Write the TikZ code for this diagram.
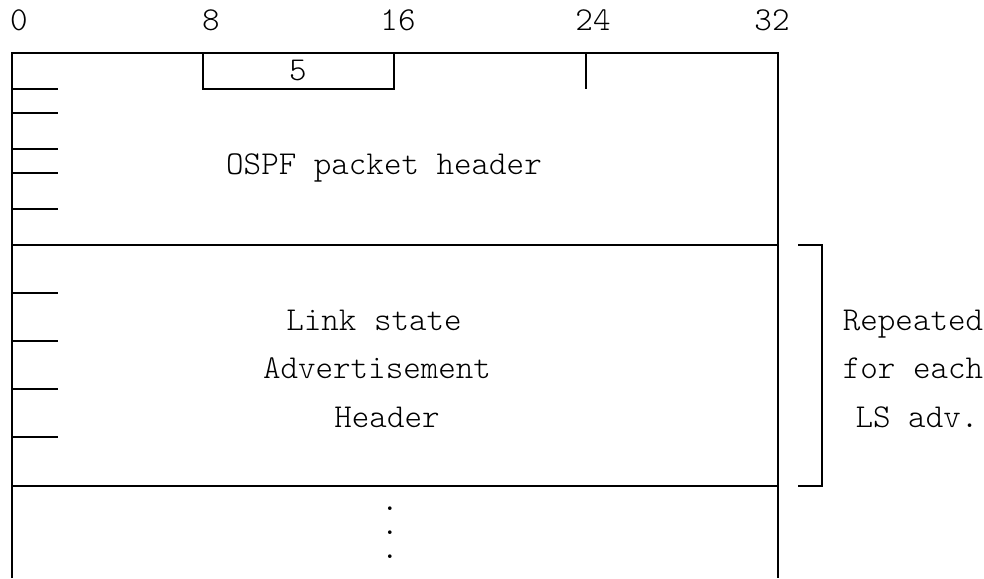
\documentclass[tikz,border=0pt]{standalone}
\usepackage{fontspec}
\setmonofont{Latin Modern Mono Light}
\begin{document}
\begin{tikzpicture}[x=0.5pt, y=-0.5pt, line width=0.6pt,
    lbl/.style={font=\ttfamily\fontsize{16.7}{19}\selectfont, inner sep=0pt, anchor=base}]
    \useasboundingbox (0,0) rectangle (984,578);
    % bit numbers
    \foreach \n/\x in {0/19, 8/211, 16/398, 24/593, 32/772}
        \node[lbl] (bit\n) at (\x, 30) {\n};
    % frame
    \draw (12, 578) -- (12, 53) -- (778, 53) -- (778, 578);
    \draw (12, 245) -- (778, 245);
    \draw (12, 486) -- (778, 486);
    % type field
    \draw (203, 53) -- (203, 89) -- (394, 89) -- (394, 53);
    \node[lbl] (type) at (298, 80) {5};
    \draw (586, 53) -- (586, 89);
    % word marks
    \foreach \y in {89, 113, 149, 173, 209, 293, 341, 389, 437}
        \draw (12, \y) -- (58, \y);
    \node[lbl] (hdr) at (384, 174) {OSPF packet header};
    \node[lbl] (lsa1) at (374, 330) {Link state};
    \node[lbl] (lsa2) at (377, 378) {Advertisement};
    \node[lbl] (lsa3) at (387, 427) {Header};
    % more to follow
    \node[lbl, anchor=north, align=center, font=\ttfamily\fontsize{16.7}{12}\selectfont]
        (dots) at (390, 506) {.\\.\\.};
    % bracket
    \draw (798, 245) -- (822, 245) -- (822, 486) -- (798, 486);
    \node[lbl] (rep1) at (913, 330) {Repeated};
    \node[lbl] (rep2) at (913, 378) {for each};
    \node[lbl] (rep3) at (917, 427) {LS adv.};
\end{tikzpicture}
\end{document}
